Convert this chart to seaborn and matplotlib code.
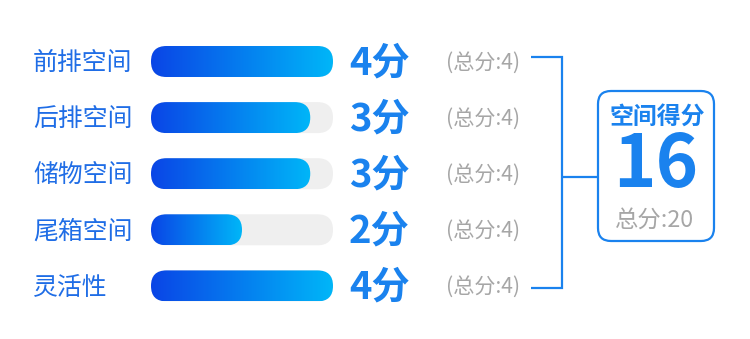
import numpy as np
import pandas as pd
import matplotlib
matplotlib.use("Agg")
import matplotlib.pyplot as plt
import matplotlib.transforms as mtransforms
from matplotlib.patches import FancyBboxPatch
from matplotlib.colors import LinearSegmentedColormap
import seaborn as sns

# ---------------- data ----------------
categories = ["前排空间", "后排空间", "储物空间", "尾箱空间", "灵活性"]
scores = [4, 3, 3, 2, 4]
bar_lengths = [4, 3.5, 3.5, 2, 4]      # filled length of each bar as drawn
totals = [4, 4, 4, 4, 4]
score_labels = ["4分", "3分", "3分", "2分", "4分"]
total_labels = ["(总分:4)"] * 5
summary_title = "空间得分"
summary_value = "16"
summary_total = "总分:20"

df = pd.DataFrame({"category": categories, "score": scores,
                   "bar": bar_lengths, "total": totals})

# ---------------- style ----------------
sns.set_theme(style="white")
plt.rcParams["font.family"] = ["Noto Sans CJK SC", "DejaVu Sans"]

W, H = 750, 339
fig = plt.figure(figsize=(W / 100, H / 100), dpi=100)
fig.patch.set_facecolor("white")

# overlay pixel axes (x: 0..750, y: 0..339 top-down)
pax = fig.add_axes([0, 0, 1, 1])
pax.set_xlim(0, W)
pax.set_ylim(H, 0)
pax.axis("off")

# bar axes
row0, step = 61.5, 56.1
top = row0 - step / 2
bottom = top + step * 5
ax = fig.add_axes([151 / W, 1 - bottom / H, 182 / W, (bottom - top) / H])
ax.set_zorder(2)
ax.patch.set_alpha(0)

bar_h = 31 / step
sns.barplot(data=df, x="total", y="category", color="#efefef", width=bar_h,
            ax=ax, orient="h")
n_track = len(ax.patches)
sns.barplot(data=df, x="bar", y="category", color="#0a4be6", width=bar_h,
            ax=ax, orient="h")
ax.set_xlim(0, 4)
ax.set_ylim(len(categories) - 0.5, -0.5)
ax.axis("off")

BLUE = "#1a82ee"
LABEL_BLUE = "#1f6de6"
GREY = "#a6a6a6"
cmap = LinearSegmentedColormap.from_list("g", ["#0a45e6", "#00b6f8"])
grad = np.linspace(0, 1, 256).reshape(1, -1)


def to_pix(x, y):
    dx, dy = ax.transData.transform((x, y))
    return dx, H - dy


for i, p in enumerate(list(ax.patches)):
    x0, y0 = p.get_x(), p.get_y()
    w, h = p.get_width(), p.get_height()
    px0, py0 = to_pix(x0, y0)
    px1, py1 = to_pix(x0 + w, y0 + h)
    ytop, ybot = min(py0, py1), max(py0, py1)
    ph = ybot - ytop
    pw = px1 - px0
    p.set_visible(False)
    if i < n_track:
        patch = FancyBboxPatch((px0, ytop), pw, ph,
                               boxstyle=f"round,pad=0,rounding_size={ph/2}",
                               facecolor="#efefef", edgecolor="none", zorder=2)
        pax.add_patch(patch)
    else:
        patch = FancyBboxPatch((px0, ytop), pw, ph,
                               boxstyle=f"round,pad=0,rounding_size={ph/2}",
                               facecolor="none", edgecolor="none", zorder=3)
        pax.add_patch(patch)
        im = pax.imshow(grad, cmap=cmap, aspect="auto",
                        extent=(px0, px1, ybot, ytop), zorder=3,
                        interpolation="bilinear")
        im.set_clip_path(patch)

pax.set_xlim(0, W)
pax.set_ylim(H, 0)

# texts aligned to rows (x in pixels, y in category coordinates)
trans = mtransforms.blended_transform_factory(pax.transData, ax.transData)
for i, cat in enumerate(categories):
    pax.text(33, i + 0.03, cat, transform=trans, ha="left", va="center",
             fontsize=17.9, color=LABEL_BLUE)
    pax.text(349, i + 0.02, score_labels[i], transform=trans, ha="left",
             va="center", fontsize=27.5, fontweight="bold", color=BLUE)
    pax.text(446, i + 0.02, total_labels[i], transform=trans, ha="left",
             va="center", fontsize=15.2, color=GREY)

# bracket
lw = 1.6
pax.plot([531, 562, 562, 531], [57.3, 57.3, 287.7, 287.7], color=BLUE,
         lw=lw, solid_joinstyle="miter", solid_capstyle="butt")
pax.plot([562, 597], [176.7, 176.7], color=BLUE, lw=lw,
         solid_capstyle="butt")

# summary box
box = FancyBboxPatch((598, 91), 116, 150,
                     boxstyle="round,pad=0,rounding_size=13",
                     facecolor="white", edgecolor=BLUE, lw=1.6, zorder=4)
pax.add_patch(box)
pax.text(657, 117, summary_title, ha="center", va="center", fontsize=17.2,
         fontweight="bold", color=BLUE, zorder=5)
pax.text(656, 166, summary_value, ha="center", va="center", fontsize=52,
         fontweight="bold", color=BLUE, zorder=5)
pax.text(655, 220, summary_total, ha="center", va="center", fontsize=16.8,
         color=GREY, zorder=5)

fig.savefig("out.png", dpi=100, facecolor="white")
